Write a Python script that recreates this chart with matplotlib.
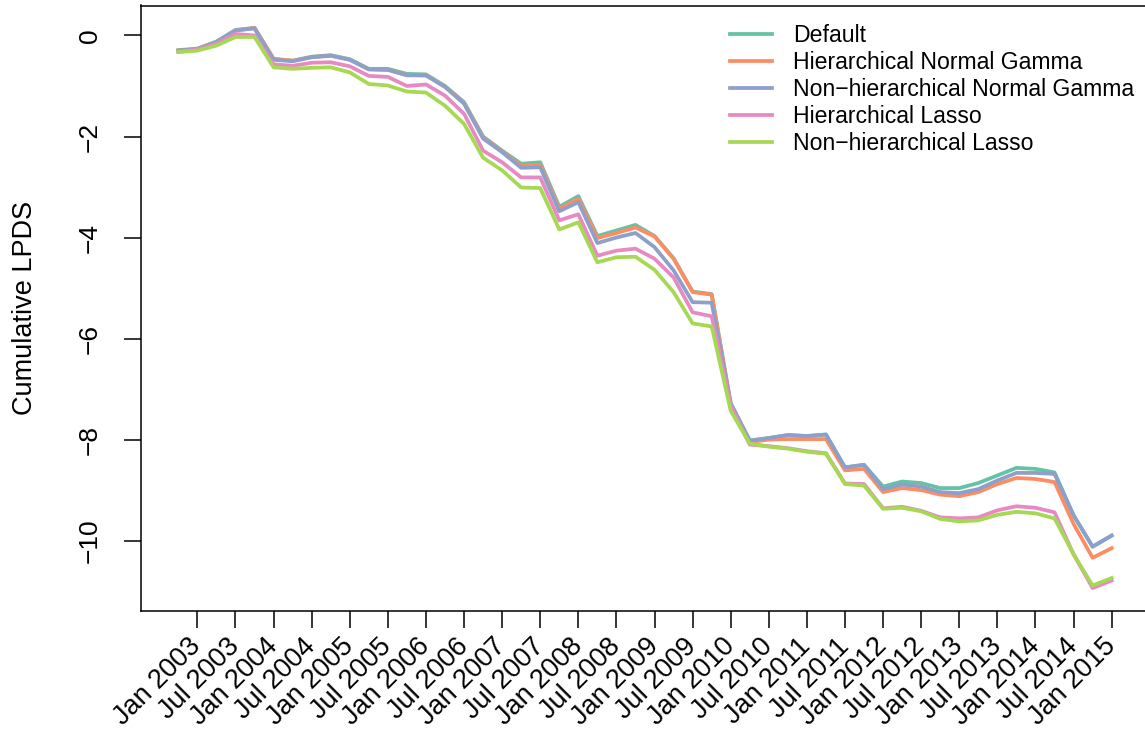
import numpy as np
import matplotlib
matplotlib.use('Agg')
import matplotlib.pyplot as plt
import matplotlib.transforms as mtransforms

plt.rcParams['font.family'] = ['Liberation Sans', 'DejaVu Sans']

# quarterly points, Oct 2002 .. Jan 2015
tick_labels = []
for yr in range(2003, 2015):
	tick_labels += ['Jan {}'.format(yr), 'Jul {}'.format(yr)]
tick_labels.append('Jan 2015')

default = [-0.29, -0.26, -0.12, 0.11, 0.15, -0.47, -0.50, -0.42, -0.39, -0.47,
	-0.66, -0.66, -0.76, -0.77, -1.00, -1.32, -2.00, -2.28, -2.54, -2.51,
	-3.39, -3.18, -3.97, -3.86, -3.75, -3.97, -4.41, -5.07, -5.12, -7.28,
	-8.02, -7.97, -7.91, -7.93, -7.90, -8.55, -8.50, -8.93, -8.83, -8.86,
	-8.96, -8.96, -8.86, -8.71, -8.56, -8.58, -8.65, -9.50, -10.12, -9.90]
hier_ng = [-0.30, -0.27, -0.14, 0.10, 0.15, -0.46, -0.50, -0.43, -0.40, -0.48,
	-0.67, -0.68, -0.78, -0.79, -1.01, -1.34, -2.02, -2.30, -2.58, -2.56,
	-3.43, -3.23, -4.01, -3.91, -3.80, -3.98, -4.42, -5.08, -5.13, -7.30,
	-8.05, -8.00, -7.99, -7.99, -7.99, -8.61, -8.58, -9.04, -8.96, -9.00,
	-9.09, -9.12, -9.04, -8.88, -8.76, -8.78, -8.84, -9.67, -10.34, -10.15]
nonhier_ng = [-0.30, -0.27, -0.13, 0.10, 0.14, -0.48, -0.51, -0.43, -0.40, -0.48,
	-0.67, -0.68, -0.79, -0.79, -1.02, -1.35, -2.04, -2.31, -2.62, -2.61,
	-3.48, -3.30, -4.11, -4.00, -3.91, -4.19, -4.65, -5.28, -5.29, -7.29,
	-8.02, -7.97, -7.91, -7.93, -7.90, -8.55, -8.50, -8.98, -8.89, -8.93,
	-9.04, -9.06, -8.98, -8.81, -8.66, -8.66, -8.68, -9.50, -10.12, -9.90]
hier_lasso = [-0.32, -0.28, -0.16, 0.03, 0.00, -0.57, -0.60, -0.54, -0.53, -0.61,
	-0.80, -0.82, -1.00, -0.97, -1.19, -1.55, -2.28, -2.51, -2.81, -2.81,
	-3.66, -3.54, -4.36, -4.26, -4.22, -4.42, -4.79, -5.48, -5.56, -7.33,
	-8.10, -8.13, -8.17, -8.23, -8.27, -8.87, -8.88, -9.36, -9.33, -9.41,
	-9.54, -9.56, -9.54, -9.40, -9.32, -9.35, -9.44, -10.27, -10.94, -10.79]
nonhier_lasso = [-0.33, -0.30, -0.20, -0.03, -0.03, -0.63, -0.66, -0.64, -0.63, -0.73,
	-0.96, -0.99, -1.11, -1.13, -1.39, -1.75, -2.42, -2.67, -3.01, -3.02,
	-3.84, -3.70, -4.49, -4.39, -4.38, -4.64, -5.08, -5.70, -5.76, -7.43,
	-8.08, -8.14, -8.18, -8.24, -8.28, -8.88, -8.91, -9.37, -9.35, -9.42,
	-9.57, -9.62, -9.60, -9.49, -9.43, -9.46, -9.56, -10.27, -10.89, -10.74]

names = ['Default', 'Hierarchical Normal Gamma', 'Non\u2212hierarchical Normal Gamma',
	'Hierarchical Lasso', 'Non\u2212hierarchical Lasso']
colors = ['#66C2A5', '#FC8D62', '#8DA0CB', '#E78AC3', '#A6D854']
series = [default, hier_ng, nonhier_ng, hier_lasso, nonhier_lasso]

x = np.arange(len(default))

fig = plt.figure(figsize=(11.45, 7.31), dpi=100)
ax = fig.add_axes([141/1145, (731-610.5)/731, (1149-141)/1145, (610.5-5.5)/731])

for s, c, n in zip(series, colors, names):
	ax.plot(x, s, color=c, lw=2.7, label=n, solid_joinstyle='round')

n = len(x) - 1
ax.set_xlim(-0.04*n, n + 0.04*n)
ymax = max(max(s) for s in series)
ymin = min(min(s) for s in series)
pad = 0.04*(ymax - ymin)
ax.set_ylim(ymin - pad, ymax + pad)

ax.set_xticks(np.arange(1, len(x), 2))
ax.set_xticklabels(tick_labels, rotation=45, ha='right', va='center',
	rotation_mode='anchor', fontsize=19.5)
# shift the rotated labels a little right, like R's text(srt=45)
shift = mtransforms.ScaledTranslation(7/72, 0, fig.dpi_scale_trans)
for lab in ax.get_xticklabels():
	lab.set_transform(lab.get_transform() + shift)
ax.set_yticks([0, -2, -4, -6, -8, -10])
ax.set_yticklabels(['0', '\u22122', '\u22124', '\u22126', '\u22128', '\u221210'],
	rotation=90, va='center', fontsize=19)
ax.tick_params(axis='both', length=12, width=1.1, color='black')
ax.tick_params(axis='x', pad=11)
ax.tick_params(axis='y', pad=16)
for sp in ax.spines.values():
	sp.set_linewidth(1.1)
ax.set_ylabel('Cumulative LPDS', fontsize=19.5, labelpad=29)

leg = ax.legend(loc='upper left', bbox_to_anchor=(730/1145, 1 - 24/731),
	bbox_transform=fig.transFigure, frameon=False, fontsize=16.6,
	handlelength=1.82, handletextpad=0.9, labelspacing=0.17,
	borderpad=0, borderaxespad=0)

plt.savefig('out.png', dpi=100)
